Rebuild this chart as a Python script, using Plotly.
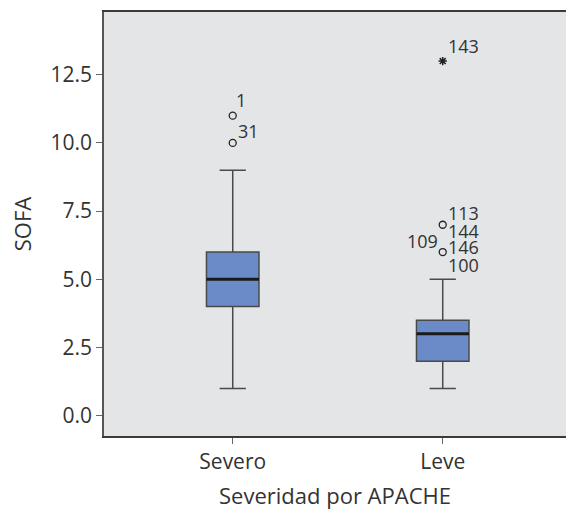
import plotly.graph_objects as go

categories = ["Severo", "Leve"]
lower_whisker = [1, 1]
q1 = [4, 2]
median = [5, 3]
q3 = [6, 3.5]
upper_whisker = [9, 5]

# outliers (category index, value)
outlier_cat = [0, 0, 1, 1]
outlier_val = [11, 10, 7, 6]
extreme_cat = [1]
extreme_val = [13]

# case labels: (category index, value, text)
label_cat = [0, 0, 1, 1, 1, 1, 1, 1]
label_val = [11, 10, 13, 7, 7, 6, 6, 6]
label_txt = ["1", "31", "143", "113", "144", "109", "146", "100"]

y_ticks = [0.0, 2.5, 5.0, 7.5, 10.0, 12.5]
y_ticktext = ["0.0", "2.5", "5.0", "7.5", "10.0", "12.5"]

FONT = "Open Sans"
TXT = "#333333"

fig = go.Figure()
xs = list(range(len(categories)))
fig.add_trace(go.Box(
    x=xs, q1=q1, median=median, q3=q3,
    lowerfence=lower_whisker, upperfence=upper_whisker,
    width=0.25, whiskerwidth=0.5,
    fillcolor="#6b8bc8", line=dict(color="#4a4a4a", width=1.5),
    boxpoints=False, showlegend=False, hoverinfo="skip",
))
fig.add_trace(go.Scatter(
    x=outlier_cat, y=outlier_val, mode="markers",
    marker=dict(symbol="circle-open", size=7, color="#222222", line=dict(width=1.3)),
    showlegend=False, hoverinfo="skip",
))
fig.add_trace(go.Scatter(
    x=extreme_cat, y=extreme_val, mode="markers",
    marker=dict(symbol="asterisk-open", size=7, color="#222222", line=dict(width=1.5)),
    showlegend=False, hoverinfo="skip",
))

# thick median lines
for i, m in enumerate(median):
    fig.add_shape(type="line", x0=i - 0.125, x1=i + 0.125, y0=m, y1=m,
                  line=dict(color="#1a1a1a", width=3), layer="above")

# label offsets (xanchor, xshift, yshift) per label
offsets = [("left", 2, 16), ("left", 4, 12), ("left", 4, 15), ("left", 4, 12),
           ("left", 4, -6), ("right", -4, 11), ("left", 4, 5), ("left", 4, -13)]
for c, v, t, (xa, xsh, ysh) in zip(label_cat, label_val, label_txt, offsets):
    fig.add_annotation(x=c, y=v, text=t, showarrow=False, xanchor=xa, yanchor="middle",
                       xshift=xsh, yshift=ysh, borderpad=0,
                       font=dict(family=FONT, size=18, color=TXT))

fig.update_layout(
    width=566, height=513,
    margin=dict(l=104, r=0, t=12, b=77),
    paper_bgcolor="white", plot_bgcolor="#e4e5e7",
    font=dict(family=FONT, size=20, color=TXT),
    xaxis=dict(range=[-0.613, 1.587], tickvals=xs, ticktext=categories,
               tickfont=dict(family=FONT, size=21, color=TXT),
               showgrid=False, zeroline=False, showline=True, linecolor="#3a3a3a",
               linewidth=1.5, mirror=True, ticks="outside", ticklen=6, tickcolor="#666666",
               title=dict(text="Severidad por APACHE", standoff=15,
                          font=dict(family=FONT, size=22, color=TXT))),
    yaxis=dict(range=[-0.744, 14.8], tickvals=y_ticks, ticktext=y_ticktext,
               tickfont=dict(family=FONT, size=21, color=TXT),
               showgrid=False, zeroline=False, showline=True, linecolor="#555555",
               linewidth=1.5, ticks="outside", ticklen=6, tickcolor="#666666",
               title=dict(text="SOFA", standoff=13,
                          font=dict(family=FONT, size=22, color=TXT))),
)
fig.write_html("out.html")
